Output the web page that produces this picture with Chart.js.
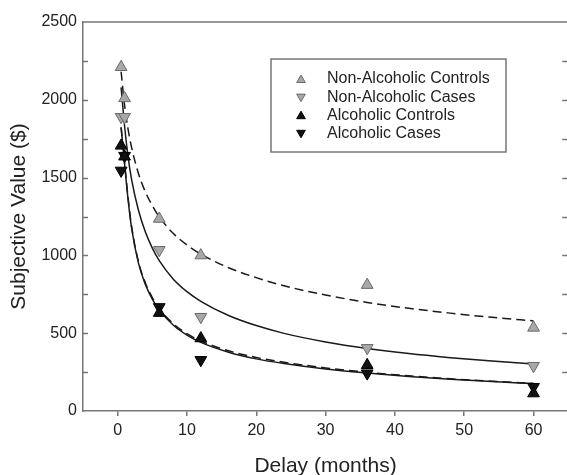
<!DOCTYPE html>
<html><head><meta charset="utf-8">
<script src="https://cdn.jsdelivr.net/npm/chart.js@4"></script>
<style>html,body{margin:0;padding:0;overflow:hidden;background:#fff;width:567px;height:475px}</style>
</head><body>
<canvas id="c" width="576" height="475" style="width:576px;height:475px;display:block"></canvas>
<script>
// Observed data (months, $)
const delays = [0.5, 1, 6, 12, 36, 60];
const nonAlcControls = [2210, 2010, 1235, 1000, 810, 535];
const nonAlcCases = [1890, 1890, 1035, 605, 405, 290];
const alcControls = [1705, 1635, 630, 467, 295, 113];
const alcCases = [1545, 1640, 668, 328, 242, 155];

// Fitted curves
const curveDelays = [0.5, 1, 1.5, 2, 3, 4, 5, 6, 8, 10, 12, 16, 20, 24, 30, 36, 42, 48, 54, 60];
const fitNonAlcControls = [2180, 1965, 1812, 1696, 1526, 1408, 1320, 1248, 1142, 1067, 1008, 921, 857, 805, 745, 698, 660, 629, 602, 579];
const fitNonAlcCases = [2080, 1830, 1635, 1490, 1290, 1150, 1047, 966, 849, 767, 705, 614, 549, 499, 444, 402, 369, 343, 321, 302];
const fitAlcControls = [1823, 1587, 1360, 1178, 950, 813, 719, 650, 553, 488, 441, 378, 335, 305, 270, 244, 222, 204, 189, 176];
const fitAlcCases = [1823, 1595, 1372, 1190, 960, 823, 729, 660, 562, 497, 450, 387, 344, 313, 277, 249, 226, 207, 191, 177];

const seriesLabels = ['Non-Alcoholic Controls', 'Non-Alcoholic Cases', 'Alcoholic Controls', 'Alcoholic Cases'];
const xTicks = [0, 10, 20, 30, 40, 50, 60];
const yTicks = [0, 250, 500, 750, 1000, 1250, 1500, 1750, 2000, 2250, 2500];
const yLabelStep = 500;

const FONT = '"Liberation Sans", Arial, Helvetica, sans-serif';
const TXT = '#222';
const AX = '#777';
Chart.defaults.font.family = FONT;
Chart.defaults.color = TXT;

const pts = arr => delays.map((d, i) => ({x: d, y: arr[i]}));
const curve = arr => curveDelays.map((d, i) => ({x: d, y: arr[i]}));

const GRAYF = '#a8a8a8', GRAYB = '#6a6a6a', BLK = '#111';
const markerSets = [
  {label: seriesLabels[0], data: pts(nonAlcControls), backgroundColor: GRAYF, borderColor: GRAYB, pointRotation: 0},
  {label: seriesLabels[1], data: pts(nonAlcCases), backgroundColor: GRAYF, borderColor: GRAYB, pointRotation: 180},
  {label: seriesLabels[2], data: pts(alcControls), backgroundColor: BLK, borderColor: '#000', pointRotation: 0},
  {label: seriesLabels[3], data: pts(alcCases), backgroundColor: BLK, borderColor: '#000', pointRotation: 180},
].map(d => Object.assign(d, {showLine: false, pointStyle: 'triangle', pointRadius: 6.8, pointBorderWidth: 1, pointHoverRadius: 6.8, isMarker: true}));

const lineSet = (label, arr, dash) => ({
  label, data: curve(arr), showLine: true, pointRadius: 0, borderColor: '#1a1a1a', borderWidth: 1.5,
  borderDash: dash, cubicInterpolationMode: 'monotone', fill: false
});
const lineSets = [
  lineSet('fit ' + seriesLabels[0], fitNonAlcControls, [9, 5]),
  lineSet('fit ' + seriesLabels[1], fitNonAlcCases, []),
  lineSet('fit ' + seriesLabels[2], fitAlcControls, []),
  lineSet('fit ' + seriesLabels[3], fitAlcCases, [9, 5]),
];

const framePlugin = {
  id: 'frame',
  afterDraw(chart) {
    const {ctx, chartArea: {left, right, top, bottom}, scales: {y}} = chart;
    ctx.save();
    ctx.strokeStyle = AX; ctx.lineWidth = 1.5;
    ctx.beginPath();
    ctx.moveTo(left, top); ctx.lineTo(right, top);
    ctx.moveTo(right, top); ctx.lineTo(right, bottom);
    y.ticks.forEach(t => {
      if (t.value <= y.min || t.value >= y.max) return;
      const py = Math.round(y.getPixelForValue(t.value)) + 0.5;
      ctx.moveTo(left, py); ctx.lineTo(left + 5, py);
      ctx.moveTo(right - 6, py); ctx.lineTo(right, py);
    });
    ctx.stroke();
    ctx.restore();
  }
};

function tri(ctx, x, y, r, rot) {
  ctx.beginPath();
  let a = rot * Math.PI / 180;
  for (let k = 0; k < 3; k++) {
    const px = x + Math.sin(a) * r, py = y - Math.cos(a) * r;
    if (k === 0) ctx.moveTo(px, py); else ctx.lineTo(px, py);
    a += 2 * Math.PI / 3;
  }
  ctx.closePath();
}

const legendPlugin = {
  id: 'insideLegend',
  afterDraw(chart) {
    const {ctx} = chart;
    const bx = 271, by = 59, bw = 235, bh = 93;
    ctx.save();
    ctx.strokeStyle = AX; ctx.lineWidth = 1.5;
    ctx.strokeRect(bx, by, bw, bh);
    ctx.font = '16px ' + FONT;
    ctx.textBaseline = 'middle';
    ctx.textAlign = 'left';
    const rows = chart.data.datasets.filter(d => d.isMarker);
    rows.forEach((d, i) => {
      const cy = 79 + i * 18.1;
      const mx = 301;
      tri(ctx, mx, cy + (d.pointRotation ? -0.5 : 1), 5, d.pointRotation);
      ctx.fillStyle = d.backgroundColor; ctx.fill();
      ctx.strokeStyle = d.borderColor; ctx.lineWidth = 1; ctx.stroke();
      ctx.fillStyle = TXT;
      ctx.fillText(d.label, 327, cy);
    });
    ctx.restore();
  }
};

new Chart(document.getElementById('c'), {
  type: 'scatter',
  data: {datasets: [...markerSets, ...lineSets]},
  options: {
    responsive: false,
    animation: false,
    devicePixelRatio: 1,
    layout: {padding: {top: 22, left: 0, right: 0, bottom: 0}},
    plugins: {legend: {display: false}, tooltip: {enabled: false}},
    scales: {
      x: {
        type: 'linear', min: -5, max: 65,
        afterBuildTicks: s => { s.ticks = xTicks.map(v => ({value: v})); },
        ticks: {font: {size: 16}, color: TXT, padding: 5, maxRotation: 0, autoSkip: false},
        grid: {display: true, drawOnChartArea: false, drawTicks: true, tickLength: 5, color: AX, lineWidth: 1.5},
        border: {display: true, color: AX, width: 1.5},
        title: {display: true, text: 'Delay (months)', font: {size: 21, lineHeight: 0.86}, color: TXT, padding: 0},
        afterFit: s => { s.height = 64; s.paddingLeft = 0; s.paddingRight = 0; }
      },
      y: {
        type: 'linear', min: 0, max: 2500,
        afterBuildTicks: s => { s.ticks = yTicks.map(v => ({value: v})); },
        ticks: {font: {size: 16}, color: TXT, padding: 6, autoSkip: false,
          callback: v => (v % yLabelStep === 0 ? String(v) : '')},
        grid: {display: false, drawTicks: false},
        border: {display: true, color: AX, width: 1.5},
        title: {display: true, text: 'Subjective Value ($)', font: {size: 21}, color: TXT, padding: {top: 7, bottom: 0}},
        afterFit: s => { s.width = 83; }
      }
    }
  },
  plugins: [framePlugin, legendPlugin]
});
</script>
</body></html>
